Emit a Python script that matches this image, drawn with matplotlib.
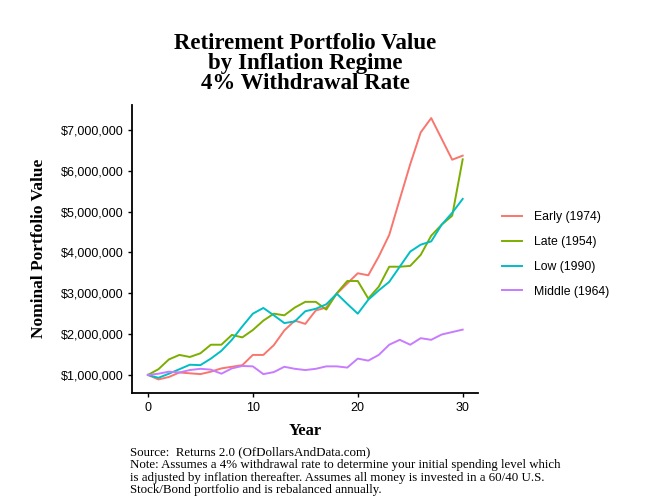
import matplotlib
matplotlib.use("Agg")
import matplotlib.pyplot as plt
from matplotlib.ticker import FuncFormatter

years = list(range(31))
early = [1.00, 0.89, 0.95, 1.06, 1.04, 1.02, 1.08, 1.16, 1.20, 1.24, 1.49, 1.49, 1.73, 2.09, 2.33,
         2.25, 2.58, 2.65, 2.99, 3.24, 3.49, 3.44, 3.90, 4.43, 5.30, 6.16, 6.94, 7.29, 6.78, 6.27, 6.37]
late = [1.00, 1.14, 1.38, 1.49, 1.44, 1.53, 1.74, 1.74, 1.98, 1.92, 2.10, 2.33, 2.50, 2.46, 2.65,
        2.79, 2.79, 2.60, 3.00, 3.30, 3.30, 2.87, 3.16, 3.65, 3.65, 3.67, 3.94, 4.41, 4.68, 4.90, 6.28]
low = [1.00, 0.93, 1.03, 1.14, 1.25, 1.24, 1.40, 1.59, 1.86, 2.19, 2.50, 2.64, 2.46, 2.27, 2.31,
       2.56, 2.62, 2.73, 2.99, 2.74, 2.50, 2.84, 3.07, 3.28, 3.65, 4.02, 4.19, 4.27, 4.68, 4.97, 5.31]
middle = [1.00, 1.03, 1.08, 1.06, 1.12, 1.15, 1.13, 1.03, 1.16, 1.22, 1.21, 1.02, 1.07, 1.20, 1.15,
          1.12, 1.15, 1.21, 1.21, 1.18, 1.40, 1.35, 1.49, 1.74, 1.86, 1.74, 1.90, 1.86, 1.99, 2.05, 2.11]
series_names = ["Early (1974)", "Late (1954)", "Low (1990)", "Middle (1964)"]
series_values = [early, late, low, middle]
colors = ["#F8766D", "#7CAE00", "#00BFC4", "#C77CFF"]
y_ticks = [1e6, 2e6, 3e6, 4e6, 5e6, 6e6, 7e6]
x_ticks = [0, 10, 20, 30]
title_lines = ["Retirement Portfolio Value", "by Inflation Regime", "4% Withdrawal Rate"]
caption_lines = [
    "Source:  Returns 2.0 (OfDollarsAndData.com)",
    "Note: Assumes a 4% withdrawal rate to determine your initial spending level which",
    "is adjusted by inflation thereafter. Assumes all money is invested in a 60/40 U.S.",
    "Stock/Bond portfolio and is rebalanced annually.",
]

fig = plt.figure(figsize=(6.71, 5.0), dpi=100)
ax = fig.add_axes([0.197, 0.215, 0.516, 0.575])

for name, vals, c in zip(series_names, series_values, colors):
    ax.plot(years, [v * 1e6 for v in vals], color=c, lw=1.4, label=name)

ax.set_xlim(-1.5, 31.5)
ax.set_ylim(0.57e6, 7.61e6)
ax.set_xticks(x_ticks)
ax.set_yticks(y_ticks)
ax.yaxis.set_major_formatter(FuncFormatter(lambda v, p: "${:,.0f}".format(v)))
for s in ["top", "right"]:
    ax.spines[s].set_visible(False)
for s in ["left", "bottom"]:
    ax.spines[s].set_linewidth(1.3)
ax.tick_params(axis="both", length=3, width=1, labelsize=9, colors="black")
for lab in ax.get_xticklabels() + ax.get_yticklabels():
    lab.set_fontfamily("Liberation Sans")

serif = "Liberation Serif"
ax.set_xlabel("Year", fontfamily=serif, fontweight="bold", fontsize=12, labelpad=7)
ax.set_ylabel("Nominal Portfolio Value", fontfamily=serif, fontweight="bold", fontsize=12.5, labelpad=10)

title_y = [41, 61, 81]
for t, yp in zip(title_lines, title_y):
    fig.text(0.455, 1 - yp / 500, t, ha="center", va="center_baseline",
             fontfamily=serif, fontweight="bold", fontsize=16.5)

leg = ax.legend(loc="center left", bbox_to_anchor=(1.055, 0.48), frameon=False,
                prop={"family": "Liberation Sans", "size": 8.8}, handlelength=1.6,
                handletextpad=1.0, labelspacing=1.05, borderaxespad=0)

cap_y = [451, 463.5, 476, 488.5]
for t, yp in zip(caption_lines, cap_y):
    fig.text(0.193, 1 - yp / 500, t, ha="left", va="center_baseline",
             fontfamily=serif, fontsize=9.3)

fig.savefig("out.png", dpi=100)
